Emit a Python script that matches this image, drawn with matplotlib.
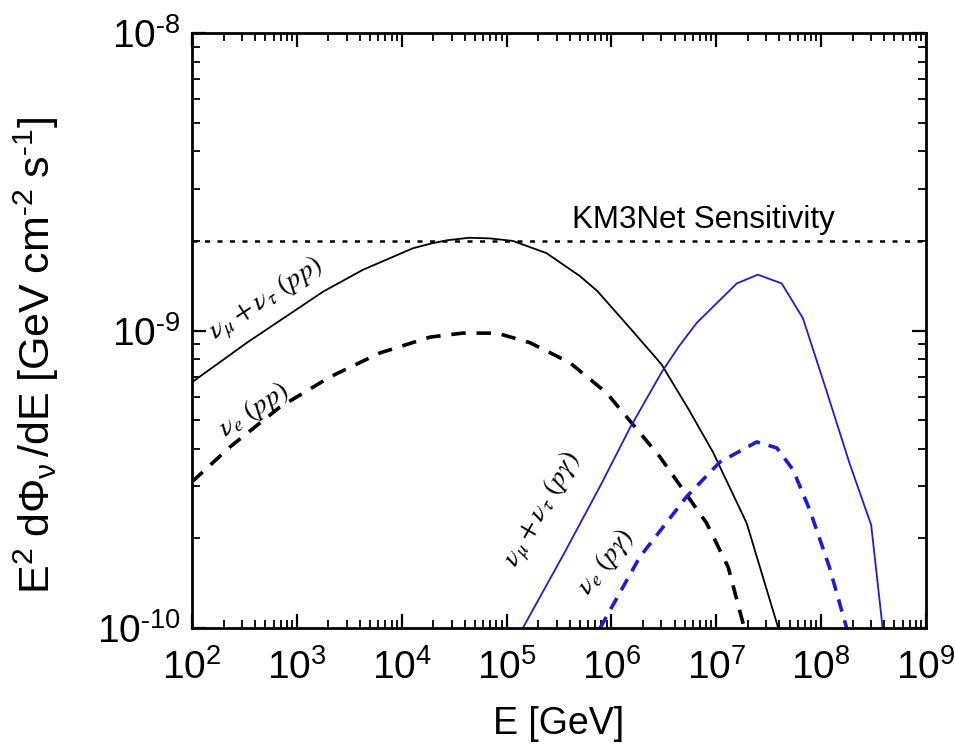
import matplotlib
matplotlib.use("Agg")
import matplotlib.pyplot as plt
from matplotlib.ticker import LogLocator, NullFormatter, FixedLocator, FixedFormatter

plt.rcParams['font.family'] = ['Liberation Sans', 'DejaVu Sans']
plt.rcParams['mathtext.fontset'] = 'stix'

# --- data ---
sens_level = 2.0e-9

x_tick_exps = [2, 3, 4, 5, 6, 7, 8, 9]
y_tick_exps = [-10, -9, -8]

E_pp_mutau = [1e2, 3.34e2, 6.9e2, 1.775e3, 4.27e3, 1.28e4, 1.9e4, 2.7e4, 4.4e4, 6.9e4, 1.15e5,
              2.4e5, 5.0e5, 7.3e5, 1.5e6, 3.0e6, 5.5e6, 9.3e6, 1.95e7, 3.9e7]
F_pp_mutau = [6.7e-10, 9.1e-10, 1.08e-9, 1.35e-9, 1.6e-9, 1.89e-9, 1.96e-9, 2.01e-9, 2.05e-9, 2.04e-9, 2.0e-9,
              1.82e-9, 1.524e-9, 1.36e-9, 1.02e-9, 7.7e-10, 5.4e-10, 3.9e-10, 2.25e-10, 1.0e-10]

E_pp_e = [1e2, 2.3e2, 6.9e2, 2.07e3, 6.17e3, 1.86e4, 3.8e4, 8.1e4, 1.67e5, 4.0e5,
          9.0e5, 2.9e6, 8.1e6, 1.3e7, 1.85e7]
F_pp_e = [3.1e-10, 4.06e-10, 5.53e-10, 6.98e-10, 8.4e-10, 9.5e-10, 9.8e-10, 9.8e-10, 9.1e-10, 7.8e-10,
          6.17e-10, 3.76e-10, 2.25e-10, 1.6e-10, 1.0e-10]

E_pg_mutau = [1.43e5, 3.44e5, 7.74e5, 1.5e6, 3.02e6, 4.49e6, 6.5e6, 1.57e7, 2.49e7, 4.2e7,
              6.7e7, 1.12e8, 1.86e8, 3.0e8, 3.86e8]
F_pg_mutau = [1.0e-10, 1.75e-10, 2.98e-10, 4.7e-10, 7.25e-10, 8.93e-10, 1.06e-9, 1.44e-9,
              1.54e-9, 1.44e-9, 1.1e-9, 6.3e-10, 3.59e-10, 2.22e-10, 1.0e-10]

E_pg_e = [7.8e5, 1.86e6, 5.2e6, 1.08e7, 2.43e7, 3.78e7, 5.4e7, 7.8e7, 1.2e8, 1.75e8]
F_pg_e = [1.0e-10, 1.73e-10, 2.76e-10, 3.61e-10, 4.22e-10, 4.03e-10, 3.4e-10, 2.49e-10, 1.6e-10, 1.0e-10]

blue = '#1c1cd8'

fig = plt.figure(figsize=(9.55, 7.49), dpi=100)
ax = fig.add_axes([192/955, 121/749, 734/955, 595/749])

ax.axhline(sens_level, color='black', lw=1.8, ls=(0, (2, 3)))
ax.plot(E_pp_mutau, F_pp_mutau, color='black', lw=1.3)
ax.plot(E_pp_e, F_pp_e, color='black', lw=2.6, ls=(0, (4.0, 3.0)))
ax.plot(E_pg_mutau, F_pg_mutau, color=blue, lw=1.3)
ax.plot(E_pg_e, F_pg_e, color=blue, lw=2.6, ls=(0, (3.5, 2.5)))

ax.set_xscale('log')
ax.set_yscale('log')
ax.set_xlim(1e2, 1e9)
ax.set_ylim(1e-10, 1e-8)

ax.xaxis.set_major_locator(FixedLocator([10.0 ** e for e in x_tick_exps]))
ax.xaxis.set_major_formatter(FixedFormatter(
    [r'$\mathdefault{10^{%d}}$' % e for e in x_tick_exps]))
ax.yaxis.set_major_locator(FixedLocator([10.0 ** e for e in y_tick_exps]))
ax.yaxis.set_major_formatter(FixedFormatter(
    [r'$\mathdefault{10^{\text{-}%d}}$' % (-e) for e in y_tick_exps]))
ax.xaxis.set_minor_locator(LogLocator(base=10, subs=range(2, 10), numticks=100))
ax.yaxis.set_minor_locator(LogLocator(base=10, subs=range(2, 10), numticks=100))
ax.xaxis.set_minor_formatter(NullFormatter())
ax.yaxis.set_minor_formatter(NullFormatter())

ax.tick_params(which='both', direction='in', top=True, right=True)
ax.tick_params(which='major', length=10, width=1.6, labelsize=28)
ax.tick_params(axis='x', which='major', pad=15)
ax.tick_params(axis='y', which='major', pad=8)
ax.tick_params(which='minor', length=6, width=1.3)
for s in ax.spines.values():
    s.set_linewidth(2.0)

ax.set_xlabel('E [GeV]', fontsize=27, labelpad=14)
ax.set_ylabel(r'$\mathregular{E^2\ d\Phi_{\nu}\,/dE\ [GeV\ cm^{\text{-}2}\ s^{\text{-}1}]}$',
              fontsize=31, labelpad=26, y=0.459)

ax.text(0.518, 0.672, 'KM3Net Sensitivity', transform=ax.transAxes, fontsize=22.5,
        ha='left', va='baseline')

ax.text(554, 1.22e-9, r'$\nu_\mu + \nu_\tau\ (pp)$', fontsize=20.5, rotation=33,
        ha='center', va='baseline', rotation_mode='anchor')
ax.text(426, 5.16e-10, r'$\nu_e\ (pp)$', fontsize=20.5, rotation=33,
        ha='center', va='baseline', rotation_mode='anchor')
ax.text(2.22e5, 2.49e-10, r'$\nu_\mu + \nu_\tau\ (p\gamma)$', fontsize=20.5, rotation=60,
        ha='center', va='center', rotation_mode='anchor')
ax.text(8.85e5, 1.667e-10, r'$\nu_e\ (p\gamma)$', fontsize=20.5, rotation=52,
        ha='center', va='center', rotation_mode='anchor')

fig.savefig('out.png', dpi=100)
